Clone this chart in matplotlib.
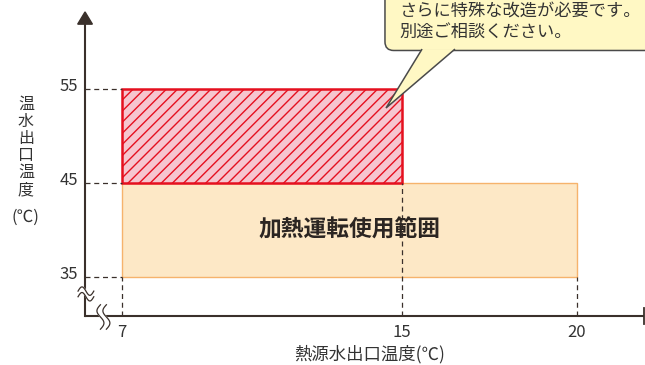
import matplotlib
matplotlib.use("Agg")
import matplotlib.pyplot as plt
import numpy as np
from matplotlib.patches import Rectangle, FancyBboxPatch, Polygon

plt.rcParams['font.family'] = ['Noto Sans CJK JP', 'DejaVu Sans']
plt.rcParams['hatch.linewidth'] = 1.0

# data
x_ticks = [7, 15, 20]
y_ticks = [35, 45, 55]
heat_range = (7, 20, 35, 45)      # x from, x to, y from, y to
special_range = (7, 15, 45, 55)
range_label = '加熱運転使用範囲'
callout_lines = ['さらに特殊な改造が必要です。', '別途ご相談ください。']
x_label = '熱源水出口温度(℃)'
y_label = '温\n水\n出\n口\n温\n度'

# view limits (data units)
XMIN, XMAX = 3.51, 21.94
YMIN, YMAX = 25.64, 64.47
OX, OY = 5.94, 30.85          # where the axes lines cross
X_END, Y_TIP = 21.91, 63.2

AX_COL = '#3a302b'
TXT_COL = '#333333'

fig = plt.figure(figsize=(6.45, 3.65), dpi=100)
ax = fig.add_axes([0, 0, 1, 1])
ax.set_xlim(XMIN, XMAX)
ax.set_ylim(YMIN, YMAX)
ax.axis('off')

# ranges
x0, x1, y0, y1 = heat_range
ax.add_patch(Rectangle((x0, y0), x1 - x0, y1 - y0, facecolor='#fde8c6',
                       edgecolor='#f6b36c', lw=1.0, zorder=2))
x0, x1, y0, y1 = special_range
ax.add_patch(Rectangle((x0, y0), x1 - x0, y1 - y0, facecolor='#f6c6cf',
                       edgecolor='#e5101f', hatch='///', lw=1.8, zorder=3))

ax.text((heat_range[0] + heat_range[1]) / 2, (heat_range[2] + heat_range[3]) / 2 - 0.05,
        range_label, fontsize=16.4, fontweight='bold', color='#2b2522',
        ha='center', va='center', zorder=5)

# dashed guide lines
dash = dict(color=AX_COL, lw=0.9, ls=(0, (4, 3)), zorder=4)
for yv in y_ticks:
    ax.plot([OX, heat_range[0]], [yv, yv], **dash)
ax.plot([7, 7], [OY, 35], **dash)
ax.plot([15, 15], [OY, 45], **dash)
ax.plot([20, 20], [OY, 35], **dash)

# axes
ax.plot([OX, X_END], [OY, OY], color=AX_COL, lw=1.5, zorder=6, solid_capstyle='butt')
ax.plot([X_END, X_END], [OY - 0.9, OY + 0.9], color=AX_COL, lw=1.3, zorder=6)
ax.plot([OX, OX], [OY, Y_TIP - 1.0], color=AX_COL, lw=1.5, zorder=6)
ax.add_patch(Polygon([[OX - 0.21, Y_TIP - 1.3], [OX + 0.21, Y_TIP - 1.3], [OX, Y_TIP]],
                     closed=True, color=AX_COL, zorder=6))

# break marks
t = np.linspace(0, 1, 40)
# y axis break (horizontal waves)
bx = OX - 0.2 + 0.45 * t
by = 33.1 + 0.45 * np.sin(2 * np.pi * t)
ax.fill_between(bx, by - 0.2, by + 0.4, color='white', zorder=7)
ax.plot(bx, by - 0.2, color=AX_COL, lw=0.9, zorder=8)
ax.plot(bx, by + 0.4, color=AX_COL, lw=0.9, zorder=8)
# x axis break (vertical waves)
wy = OY - 1.4 + 2.6 * t
wx = 6.45 + 0.1 * np.sin(2 * np.pi * t)
ax.fill_betweenx(wy, wx - 0.07, wx + 0.1, color='white', zorder=7)
ax.plot(wx - 0.07, wy, color=AX_COL, lw=0.9, zorder=8)
ax.plot(wx + 0.1, wy, color=AX_COL, lw=0.9, zorder=8)

# tick labels
for xv in x_ticks:
    ax.text(xv, OY - 1.75, str(xv), fontsize=12, color=TXT_COL, ha='center', va='center')
for yv in y_ticks:
    ax.text(OX - 0.2, yv + 0.25, str(yv), fontsize=12, color=TXT_COL, ha='right', va='center')

# axis titles
ax.text(14.06, OY - 4.05, x_label, fontsize=12.5, color=TXT_COL, ha='center', va='center')
ax.text(4.25, 48.8, y_label, fontsize=11.5, color=TXT_COL, ha='center', va='center',
        linespacing=1.0)
ax.text(4.25, 41.3, '(℃)', fontsize=12, color=TXT_COL, ha='center', va='center')

# callout bubble
bub_x, bub_y = 14.51, 59.1
ax.add_patch(FancyBboxPatch((bub_x, bub_y), 9.0, 8.0,
                            boxstyle='round,pad=0,rounding_size=0.25',
                            mutation_aspect=35 / 9.4,
                            facecolor='#fff8c4', edgecolor='#4a4a4a', lw=1.1, zorder=9))
tail = [[15.57, bub_y + 0.15], [14.54, 52.98], [16.51, bub_y + 0.15]]
ax.add_patch(Polygon(tail, closed=False, facecolor='#fff8c4', edgecolor='#4a4a4a',
                     lw=1.1, zorder=10, joinstyle='miter'))
ax.text(bub_x + 0.41, 62.2, '\n'.join(callout_lines), fontsize=12.4, color=TXT_COL,
        ha='left', va='center', linespacing=1.22, zorder=11)

fig.savefig('out.png', dpi=100)
